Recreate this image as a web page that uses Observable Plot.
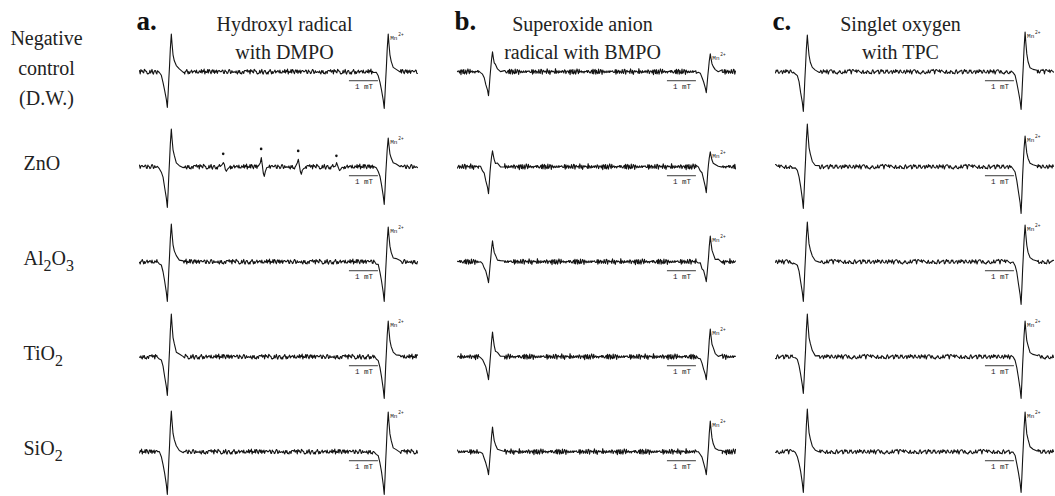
<!DOCTYPE html>
<html><head><meta charset="utf-8">
<script src="https://cdn.jsdelivr.net/npm/d3@7"></script>
<script src="https://cdn.jsdelivr.net/npm/@observablehq/plot@0.6"></script>
<style>body{margin:0;background:#fff} svg{display:block}</style>
</head><body><div id="chart"></div>
<script>
// ---- data ----
const columns = ["a", "b", "c"];
const columnTitles = ["Hydroxyl radical\nwith DMPO", "Superoxide anion\nradical with BMPO", "Singlet oxygen\nwith TPC"];
const rows = ["Negative\ncontrol\n(D.W.)", "ZnO", "Al2O3", "TiO2", "SiO2"];
const fieldRange = [0, 9.6];            // mT swept in each panel
const fieldStep = 0.024;                // mT between recorded points
const scaleBar = [7.25, 8.25];          // 1 mT bar
// Mn2+ marker line centres (mT) per column
const mnLeft = [1.03, 1.14, 1.03];
const mnRight = [8.52, 8.66, 8.55];
// Mn2+ lobe amplitudes (a.u.) [column][row]
const leftUp    = [[38, 38, 38, 43, 41], [20, 16, 21, 25, 25], [37, 43, 40, 43, 43]];
const leftDown  = [[36, 41, 40, 39, 43], [24, 27, 21, 23, 23], [40, 42, 40, 37, 41]];
const rightUp   = [[38, 29, 35, 36, 40], [18, 15, 26, 28, 31], [40, 31, 37, 36, 40]];
const rightDown = [[37, 38, 40, 42, 43], [21, 26, 20, 23, 23], [38, 47, 43, 42, 41]];
// Mn2+ derivative line shape (offset in mT, normalised signal)
const mnShapeField = [-0.414, -0.345, -0.276, -0.217, -0.162, -0.103, -0.069, -0.041, -0.017, 0.007, 0.034, 0.069, 0.093, 0.128, 0.172, 0.241, 0.345, 0.483];
const mnShapeValue = [0, -0.03, -0.1, -0.27, -0.5, -0.77, -1, -0.6, -0.2, 0.15, 0.6, 1, 0.75, 0.45, 0.28, 0.13, 0.05, 0.01];
// DMPO-OH quartet seen with ZnO (column a)
const dmpoField = [2.93, 4.24, 5.52, 6.84];
const dmpoAmp = [5, 9, 8, 4];
const dmpoDot = [13, 18, 16, 11];
const dmpoShapeField = [-0.138, -0.069, -0.034, 0, 0.034, 0.069, 0.103, 0.155, 0.207];
const dmpoShapeValue = [0, 0.4, 1, 0.3, -0.6, -1, -0.5, -0.15, 0];
// baseline noise read as texture (a.u.), and its level per column
const noiseA = [0.6,-0.8,1.2,-0.4,1.6,-1.2,0.2,0.9,-1.6,0.4,1.3,-0.9,-0.3,1.7,-1.5,0.8,0.1,-1.2,0.9,0.4,-0.8,1.6,-0.4,-1.3,0.7,0.1,1.2,-1.7,0.4,0.9,-0.9,-0.3,1.9,-0.8,0.1,0.8,-1.3,0.5,1.2,-1.6,0.1,0.8,-0.4,-0.9,1.6,-1.2,0.4,0.1,0.9,-0.8,-1.6,1.2,0.4,-0.4,0.8,-0.9,1.7,0.1,-1.2,0.8,-0.4,0.5,-1.6,1.2,0.1,-0.8,0.9,1.6,-0.8,-0.4,0.4,-1.2,0.8,0.1,-0.9,1.2,-1.6,0.4,0.9,-0.4,0.1,1.6,-0.8,0.4,-1.2,0.9,-0.4,0.1,1.2,-0.8,0.4,-1.6,0.8,0.1,1.2,-0.4,-0.9,1.6,-1.2,0.4,-0.2,1.1,-1.4,0.7,0.3,-1.0,1.5,-0.6,-1.1,0.8,0.2,-1.5,1.0,-0.3,0.6,-1.2,1.4,-0.5,0.2,-0.9];
const noiseB = [0.8,1.8,0.4,2.2,1.0,0.2,1.6,-0.2,0.9,-0.8,0.3,-1.4,-0.2,-1.8,-0.6,-2.1,-0.9,-1.5,0.1,-1.2,0.6,-0.4,1.3,0.2,1.9,0.7,2.4,1.1,1.7,0.3,1.2,-0.5,0.4,-1.3,-0.2,-1.9,-0.8,-1.4,0.2,-0.9,0.7,0.0,1.5,0.5,2.0,0.8,1.3,-0.1,0.6,-1.0,-0.3,-1.7,-0.7,-2.2,-1.0,-1.3,0.3,-0.6,1.0,0.2,1.6,0.9,2.3,1.2,0.7,1.8,0.2,0.9,-0.6,0.3,-1.2,-0.4,-1.9,-0.9,-1.4,-0.1,-1.1,0.5,-0.3,1.1,0.4,1.8,0.6,1.2,-0.2,0.8,-0.9,0.1,-1.6,-0.5,-2.0,-1.1,-0.6,-1.5,0.2,-0.8,0.9,0.1,1.7,0.6,2.1,1.0,1.4,0.3,0.9,-0.5,0.2,-1.2,-0.6,-1.8,-0.9,-0.2,-1.3,0.4,-0.5,1.0,0.2,1.5,0.6,1.9];
const noiseC = [-0.4,1.1,-1.3,0.6,0.2,-1.0,1.5,-0.6,0.8,-1.5,0.3,1.2,-0.7,-0.2,1.6,-1.1,0.5,-0.3,1.3,-1.4,0.7,0.1,-0.9,1.4,-0.5,0.9,-1.6,0.4,1.0,-0.8,0.3,-1.2,1.7,-0.4,-0.9,0.6,1.2,-1.3,0.2,0.8,-0.6,1.5,-1.0,0.4,-0.2,1.1,-1.5,0.7,0.3,-0.8,1.3,-0.3,-1.2,0.9,0.5,-1.6,1.0,-0.4,0.6,-0.9,1.6,-0.7,0.2,1.2,-1.1,0.4,-0.5,1.4,-1.3,0.8,0.0,-0.8,1.1,-0.2,0.7,-1.4,1.3,-0.6,0.3,1.0,-1.2,0.5,-0.1,1.5,-0.9,0.6,-1.5,0.9,0.2,-0.7,1.2,-0.4,0.8,-1.1,0.4,1.4,-0.8,-0.3,1.0,-1.4,0.6,0.2,-0.6,1.3,-1.0,0.5,-0.2,1.6,-1.2,0.7,-0.5,0.9,-1.3,1.1,0.1,-0.7,1.2,-0.9,0.4,-0.3];
const noises = [noiseA, noiseB, noiseC];
const noiseLevel = [1.4, 1.3, 1.4];

// ---- build the trace table ----
const traces = [];
const lines = [];
columns.forEach((col, ci) => {
  const noise = noises[ci];
  rows.forEach((row, ri) => {
    traces.push({col, row, ci, ri});
    let k = ri * 31 + ci * 11;
    const nz = () => { k += 7; return noiseLevel[ci] * noise[k % noise.length]; };
    const mnLines = [
      {c: mnLeft[ci], up: leftUp[ci][ri], down: leftDown[ci][ri]},
      {c: mnRight[ci], up: rightUp[ci][ri], down: rightDown[ci][ri]}
    ];
    const feats = (ci === 0 && ri === 1) ? dmpoField.map((c, j) => ({c, amp: dmpoAmp[j]})) : [];
    const mnLo = mnShapeField[0], mnHi = mnShapeField[mnShapeField.length - 1];
    const fLo = dmpoShapeField[0], fHi = dmpoShapeField[dmpoShapeField.length - 1];
    const pts = [];
    const n = Math.round((fieldRange[1] - fieldRange[0]) / fieldStep);
    for (let i = 0; i <= n; i++) {
      const x = fieldRange[0] + i * fieldStep;
      if (mnLines.some(s => x >= s.c + mnLo && x <= s.c + mnHi)) continue;
      if (feats.some(f => x >= f.c + fLo && x <= f.c + fHi)) continue;
      pts.push({x, y: nz()});
    }
    mnLines.forEach(s => mnShapeField.forEach((dx, j) => {
      const v = mnShapeValue[j];
      const base = v < 0 ? v * s.down : v * s.up;
      pts.push({x: s.c + dx, y: base + (Math.abs(dx) > 0.15 ? 0.6 * nz() : 0)});
    }));
    feats.forEach(f => dmpoShapeField.forEach((dx, j) => {
      pts.push({x: f.c + dx, y: dmpoShapeValue[j] * f.amp + 0.4 * nz()});
    }));
    pts.sort((a, b) => a.x - b.x);
    pts.forEach(p => lines.push({col, row, field: p.x, signal: p.y}));
  });
});
const dots = dmpoField.map((f, j) => ({col: "a", row: rows[1], field: f - 0.04, signal: dmpoDot[j]}));

const serif = "'Liberation Serif', 'Times New Roman', Times, serif";
const mono = "'Liberation Mono', 'Courier New', monospace";
const titleDx = [6, -14, -14];

const chart = Plot.plot({
  width: 1055, height: 496,
  marginLeft: 138, marginRight: 2, marginTop: 18, marginBottom: 0,
  fx: {domain: columns, paddingInner: 0.127, paddingOuter: 0, axis: null},
  fy: {domain: rows, paddingInner: 0, paddingOuter: 0, axis: null},
  x: {domain: fieldRange, axis: null},
  y: {domain: [-44, 51.6], axis: null},
  style: {fontFamily: serif, background: "#fff", color: "#111"},
  marks: [
    Plot.line(lines, {x: "field", y: "signal", fx: "col", fy: "row", stroke: "#141414", strokeWidth: 1.1, strokeLinejoin: "round"}),
    Plot.dot(dots, {x: "field", y: "signal", fx: "col", fy: "row", r: 1.3, fill: "#141414", stroke: null}),
    // 1 mT scale bars
    Plot.ruleY(traces, {fx: "col", fy: "row", x1: () => scaleBar[0], x2: () => scaleBar[1], y: () => -9, stroke: "#222", strokeWidth: 0.9}),
    Plot.text(traces, {fx: "col", fy: "row", x: () => (scaleBar[0] + scaleBar[1]) / 2, y: () => -9, dy: 6, text: () => "1 mT", fontSize: 7.5, fontFamily: mono, fill: "#222"}),
    // Mn2+ labels
    Plot.text(traces, {fx: "col", fy: "row", x: d => mnRight[d.ci], y: d => rightUp[d.ci][d.ri], dx: 4, dy: 4, text: () => "Mn", textAnchor: "start", fontSize: 6, fontFamily: mono, fill: "#222"}),
    Plot.text(traces, {fx: "col", fy: "row", x: d => mnRight[d.ci], y: d => rightUp[d.ci][d.ri], dx: 12, dy: 1, text: () => "2+", textAnchor: "start", fontSize: 4.5, fontFamily: mono, fill: "#222"}),
    // column titles
    Plot.text(columns, {fx: d => d, fy: () => rows[0], frameAnchor: "top-left", textAnchor: "start", lineAnchor: "top", dx: -3, dy: -10, text: d => d + ".", fontSize: 27, fontWeight: "bold", fill: "#111"}),
    ...columns.map((c, i) => Plot.text([c], {fx: d => d, fy: () => rows[0], frameAnchor: "top", lineAnchor: "top", dx: titleDx[i], dy: -9, text: () => columnTitles[i], fontSize: 20, lineHeight: 1.4, fill: "#222"})),
    // row labels
    Plot.text([rows[0]], {fx: () => "a", fy: d => d, frameAnchor: "left", textAnchor: "middle", dx: -93, dy: -3, text: d => d, fontSize: 20, lineHeight: 1.5, fill: "#222"}),
    Plot.text(rows.slice(1), {fx: () => "a", fy: d => d, frameAnchor: "left", textAnchor: "start", dx: -116, dy: 1, text: d => d, fontSize: 20, fill: "#222"})
  ]
});

// chemical-formula subscripts
d3.select(chart).selectAll("text").each(function () {
  const t = this.textContent;
  if (!/^(Al2O3|TiO2|SiO2)$/.test(t)) return;
  this.textContent = "";
  let down = false;
  t.split(/(\d+)/).filter(Boolean).forEach(part => {
    const ts = document.createElementNS("http://www.w3.org/2000/svg", "tspan");
    const isDigit = /^\d+$/.test(part);
    if (isDigit && !down) { ts.setAttribute("dy", "6"); down = true; }
    else if (!isDigit && down) { ts.setAttribute("dy", "-6"); down = false; }
    if (isDigit) ts.setAttribute("font-size", "16");
    ts.textContent = part;
    this.appendChild(ts);
  });
});

document.getElementById("chart").appendChild(chart);
</script>
</body></html>
